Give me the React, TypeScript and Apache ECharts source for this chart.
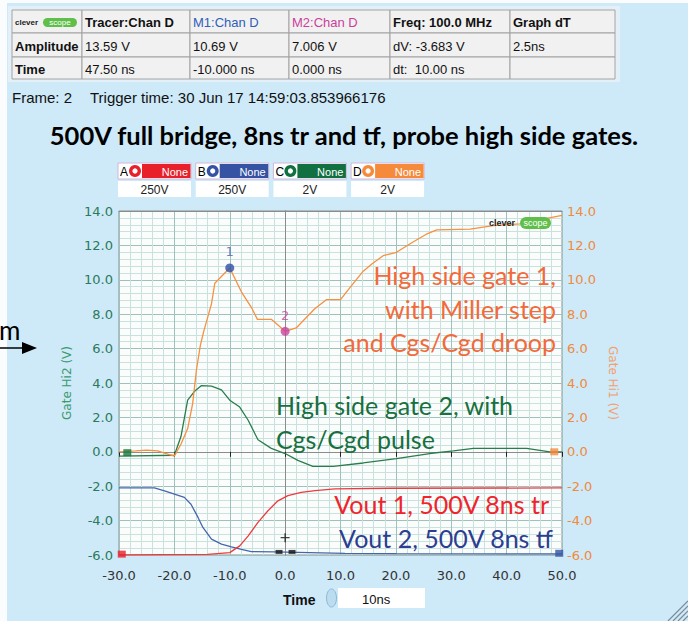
import React, { useEffect, useRef } from "react";
import * as echarts from "echarts";

// ---------- data ----------
const xMin = -30;
const xMax = 50;
const xStep = 10;
const yMin = -6;
const yMax = 14;
const yStep = 2;

// Gate Hi1 (Chan D, orange) [ns, V]
const gateHi1: number[][] = [
  [-30, 0.0], [-27, 0.05], [-25, 0.1], [-23, 0.05], [-21.5, -0.1], [-20, -0.25],
  [-18.8, 0.45], [-17.6, 1.35], [-16.7, 2.8], [-16.0, 4.8], [-15.3, 6.2], [-14.7, 7.0],
  [-13.3, 8.6], [-12.7, 9.8], [-10, 10.69], [-7.9, 9.3], [-6.1, 8.4], [-5, 7.7],
  [-2.5, 7.7], [0, 7.006], [2, 7.2], [5.3, 8.3], [7.5, 8.85], [10, 8.85], [11.7, 9.55],
  [14.1, 10.5], [15.6, 10.9], [17.7, 11.4], [20.1, 11.6], [23.1, 12.2], [25.5, 12.65],
  [27.4, 12.9], [33.4, 12.95], [37.6, 13.15], [42.4, 13.25], [47.5, 13.59], [50, 13.75],
];

// Gate Hi2 (Chan C, green)
const gateHi2: number[][] = [
  [-30, -0.25], [-20, -0.2], [-18.8, 0.9], [-17.6, 3.0], [-16.4, 3.5], [-15.1, 3.85],
  [-13.3, 3.82], [-11.5, 3.6], [-10, 3.0], [-8.2, 2.6], [-6.7, 1.85], [-4.9, 0.7],
  [-2.5, 0.2], [0, -0.1], [2.3, -0.5], [5, -0.85], [8.7, -0.85], [14.1, -0.65],
  [20.1, -0.4], [26.1, -0.1], [30.4, 0.05], [34, 0.2], [43.6, 0.2], [47.8, 0.0], [50, 0.0],
];

// Vout 1 (Chan A, red), displayed in scope divisions
const vout1: number[][] = [
  [-30, -6.0], [-14, -5.96], [-10, -5.86], [-8.2, -5.47], [-6.7, -4.9], [-4.9, -4.1],
  [-3.1, -3.43], [-1.3, -2.85], [0.5, -2.55], [2.9, -2.36], [5.4, -2.26], [9, -2.16],
  [19, -2.12], [50, -2.1],
];

// Vout 2 (Chan B, blue)
const vout2: number[][] = [
  [-30, -2.1], [-23.6, -2.1], [-21.5, -2.3], [-18.2, -2.65], [-17, -3.05], [-15.75, -3.8],
  [-14.85, -4.4], [-13.3, -5.08], [-11.5, -5.37], [-9.7, -5.53], [-7.9, -5.67], [-6.1, -5.8],
  [-2, -5.82], [10.8, -5.9], [20, -5.92], [50, -5.94],
];

// measurement markers
const markerNames = ["1", "2"];
const markerPoints: number[][] = [[-10, 10.69], [0, 7.006]];

// channel reference markers [ns, V]
const refRed: number[][] = [[-29.5, -5.95]];
const refGreen: number[][] = [[-28.5, -0.05]];
const refOrange: number[][] = [[48.6, 0.0]];
const refBlue: number[][] = [[49.5, -5.9]];

// dt cursor markers
const cursorSquares: number[][] = [[-1.1, -5.82], [1.25, -5.82]];
const cursorPlus: number[][] = [[0, -4.99]];

// table
const headerRow = ["", "Tracer:Chan D", "M1:Chan D", "M2:Chan D", "Freq: 100.0 MHz", "Graph dT"];
const amplitudeRow = ["Amplitude", "13.59 V", "10.69 V", "7.006 V", "dV: -3.683 V", "2.5ns"];
const timeRow = ["Time", "47.50 ns", "-10.000 ns", "0.000 ns", "dt:  10.00 ns", ""];

const channelLetters = ["A", "B", "C", "D"];
const channelScales = ["250V", "250V", "2V", "2V"];

const frameText = "Frame: 2";
const triggerText = "Trigger time: 30 Jun 17 14:59:03.853966176";
const titleText = "500V full bridge, 8ns tr and tf, probe high side gates.";
const timeBase = "10ns";

// ---------- styles ----------
const C_ORANGE = "#f7903f";
const C_GREEN = "#2a7d4a";
const C_RED = "#ee3a3f";
const C_BLUE = "#4565b0";
const CH_COLORS = ["#e8202a", "#3552a3", "#10703f", "#f68a3b"];
const BG = "#cee9f8";
const TICKFONT = "DejaVu Sans";
const TABFONT = "Liberation Sans";
const ANNFONT = "Lato";

function logo(x: number, y: number, h: number, fs: number, textW: number, pillW: number): any[] {
  return [
    { type: "text", x, y: y + h / 2, z: 60, style: { text: "clever", fill: "#222", font: `bold ${fs}px ${TABFONT}`, verticalAlign: "middle", align: "left" } },
    { type: "rect", z: 60, shape: { x: x + textW, y, width: pillW, height: h, r: h / 2 }, style: { fill: "#5fbf4a" } },
    { type: "text", x: x + textW + pillW / 2, y: y + h / 2, z: 61, style: { text: "scope", fill: "#ffffff", font: `${fs}px ${TABFONT}`, verticalAlign: "middle", align: "center" } },
  ];
}

function buildGraphic(): any[] {
  const g: any[] = [];
  g.push({ type: "rect", shape: { x: 0, y: 0, width: 7, height: 621 }, style: { fill: "#fafcfd" } });
  g.push({ type: "rect", shape: { x: 0, y: 0, width: 688, height: 3 }, style: { fill: "#fafcfd" } });
  g.push({ type: "rect", shape: { x: 8, y: 6, width: 612, height: 76 }, style: { fill: "#e3f0f8" } });
  const cols = [12, 82, 190, 289, 390, 510, 615];
  const rows = [10, 33, 57, 79];
  const tableRows = [headerRow, amplitudeRow, timeRow];
  tableRows.forEach((row, ri) => {
    row.forEach((txt, ci) => {
      const x0 = cols[ci];
      const y0 = rows[ri];
      const w = cols[ci + 1] - x0;
      const h = rows[ri + 1] - y0;
      g.push({ type: "rect", shape: { x: x0, y: y0, width: w, height: h }, style: { fill: "#f1f1f1", stroke: "#a3a3a3", lineWidth: 1 } });
      let color = "#111";
      let weight = "normal";
      if (ri === 0) {
        weight = ci === 2 || ci === 3 ? "normal" : "bold";
        if (ci === 2) color = "#2f5fb8";
        if (ci === 3) color = "#cc3f9c";
      }
      if (ci === 0) weight = "bold";
      if (txt) {
        g.push({ type: "text", x: x0 + 3, y: y0 + h / 2 + 1, style: { text: txt, fill: color, font: `${weight} 13px ${TABFONT}`, verticalAlign: "middle" } });
      }
    });
  });
  g.push(...logo(15, 18, 9, 8, 28, 34));
  g.push({ type: "text", x: 12, y: 97, style: { text: frameText, fill: "#111", font: `15px ${TABFONT}`, verticalAlign: "middle" } });
  g.push({ type: "text", x: 90, y: 97, style: { text: triggerText, fill: "#111", font: `15px ${TABFONT}`, verticalAlign: "middle" } });
  g.push({ type: "text", x: 344, y: 135, style: { text: titleText, fill: "#000", font: `bold 25.5px ${ANNFONT}`, align: "center", verticalAlign: "middle" } });
  channelLetters.forEach((L, i) => {
    const x0 = 118 + i * 77.7;
    const col = CH_COLORS[i];
    g.push({ type: "rect", shape: { x: x0, y: 163, width: 73, height: 16 }, style: { fill: "#ffffff", stroke: "#d4b6d8", lineWidth: 1 } });
    g.push({ type: "text", x: x0 + 2, y: 171.5, style: { text: L, fill: "#000", font: `12px ${TABFONT}`, verticalAlign: "middle" } });
    g.push({ type: "circle", shape: { cx: x0 + 17, cy: 171, r: 6 }, style: { fill: col } });
    g.push({ type: "circle", shape: { cx: x0 + 17, cy: 171, r: 2.6 }, style: { fill: "#ffffff" } });
    g.push({ type: "rect", shape: { x: x0 + 24, y: 164, width: 48.5, height: 14 }, style: { fill: col } });
    g.push({ type: "text", x: x0 + 70, y: 171.5, style: { text: "None", fill: "#ffffff", font: `11px ${TABFONT}`, align: "right", verticalAlign: "middle" } });
    g.push({ type: "rect", shape: { x: x0, y: 181, width: 73, height: 16 }, style: { fill: "#ffffff" } });
    g.push({ type: "text", x: x0 + 36.5, y: 189.5, style: { text: channelScales[i], fill: "#222", font: `12px ${TABFONT}`, align: "center", verticalAlign: "middle" } });
  });
  g.push(...logo(489, 217, 12, 9, 31, 31));
  const orangeLines = ["High side gate 1,", "with Miller step", "and Cgs/Cgd droop"];
  orangeLines.forEach((t, i) => {
    g.push({ type: "text", x: 556, y: 275 + i * 33.5, z: 50, style: { text: t, fill: "#f36a3a", font: `25px ${ANNFONT}`, align: "right", verticalAlign: "middle" } });
  });
  const greenLines = ["High side gate 2, with", "Cgs/Cgd pulse"];
  greenLines.forEach((t, i) => {
    g.push({ type: "text", x: 276, y: 405 + i * 33.5, z: 50, style: { text: t, fill: "#17703f", font: `25px ${ANNFONT}`, align: "left", verticalAlign: "middle" } });
  });
  g.push({ type: "text", x: 549, y: 504, z: 50, style: { text: "Vout 1, 500V 8ns tr", fill: "#f0242b", font: `25px ${ANNFONT}`, align: "right", verticalAlign: "middle" } });
  g.push({ type: "text", x: 553, y: 538, z: 50, style: { text: "Vout 2, 500V 8ns tf", fill: "#2c3d92", font: `25px ${ANNFONT}`, align: "right", verticalAlign: "middle" } });
  g.push({ type: "text", x: -1, y: 330, style: { text: "m", fill: "#000", font: `26px ${ANNFONT}`, verticalAlign: "middle" } });
  g.push({ type: "line", shape: { x1: 0, y1: 348, x2: 25, y2: 348 }, style: { stroke: "#000", lineWidth: 1.5 } });
  g.push({ type: "polygon", shape: { points: [[22, 342], [37, 348], [22, 354]] }, style: { fill: "#000" } });
  g.push({ type: "text", x: 283, y: 600, style: { text: "Time", fill: "#111", font: `bold 14px ${TABFONT}`, verticalAlign: "middle" } });
  g.push({ type: "ellipse", shape: { cx: 331.5, cy: 598, rx: 5, ry: 9 }, style: { fill: "#bcdcf0", stroke: "#8fb8d8", lineWidth: 1 } });
  g.push({ type: "rect", shape: { x: 338, y: 588, width: 87, height: 20 }, style: { fill: "#ffffff" } });
  g.push({ type: "text", x: 362, y: 599, style: { text: timeBase, fill: "#111", font: `13px ${TABFONT}`, verticalAlign: "middle" } });
  for (let k = 0; k < 4; k++) {
    g.push({ type: "line", shape: { x1: 668 + k * 5, y1: 621, x2: 688, y2: 601 + k * 5 }, style: { stroke: "#7a8a96", lineWidth: 1.2 } });
  }
  return g;
}

export default function App() {
  const ref = useRef<HTMLDivElement>(null);
  useEffect(() => {
    if (!ref.current) return;
    const chart = echarts.init(ref.current, undefined, { renderer: "svg" });
    const lineSeries = (name: string, data: number[][], color: string, yIdx: number) => ({
      type: "line", name, data, xAxisIndex: 0, yAxisIndex: yIdx, showSymbol: false, symbol: "none",
      lineStyle: { color, width: 1.3 }, z: 3,
    });
    const refSeries = (data: number[][], color: string) => ({
      type: "scatter", data, xAxisIndex: 0, yAxisIndex: 0, symbol: "rect", symbolSize: [8, 7],
      itemStyle: { color }, z: 4,
    });
    const option: any = {
      animation: false,
      backgroundColor: BG,
      grid: { left: 119, top: 211, width: 443, height: 344, show: true, backgroundColor: "#fbfdfd", borderColor: "#8c8c8c", borderWidth: 1 },
      xAxis: [
        {
          type: "value", min: xMin, max: xMax, interval: xStep, position: "bottom",
          axisLine: { show: true, lineStyle: { color: "#8c8c8c" } }, axisTick: { show: false }, axisLabel: { show: false },
          splitLine: { show: true, lineStyle: { color: "#9fc1bb", width: 1 } },
          minorTick: { show: false, splitNumber: 5 },
          minorSplitLine: { show: true, lineStyle: { color: "#c9e2dd", width: 1 } },
        },
        {
          type: "value", min: xMin, max: xMax, interval: xStep, position: "bottom", offset: 5,
          axisLine: { show: false }, axisTick: { show: true, length: 5, lineStyle: { color: "#222" } },
          axisLabel: { show: true, margin: 9, color: "#333", fontFamily: TICKFONT, fontSize: 13, formatter: (v: number) => v.toFixed(1) },
          splitLine: { show: false },
        },
        {
          type: "value", min: xMin, max: xMax, interval: xStep, position: "top",
          axisLine: { show: true, lineStyle: { color: "#8c8c8c" } }, axisTick: { show: false }, axisLabel: { show: false }, splitLine: { show: false },
        },
      ],
      yAxis: [
        {
          type: "value", min: yMin, max: yMax, interval: yStep, position: "left",
          name: "Gate Hi2 (V)", nameLocation: "middle", nameGap: 34,
          nameTextStyle: { color: "#3a9a6c", fontFamily: TICKFONT, fontSize: 12 },
          axisLine: { show: true, lineStyle: { color: "#8c8c8c" } }, axisTick: { show: false },
          axisLabel: { margin: 6, color: "#2b7a5a", fontFamily: TICKFONT, fontSize: 13, formatter: (v: number) => v.toFixed(1) },
          splitLine: { show: true, lineStyle: { color: "#9fc1bb", width: 1 } },
          minorTick: { show: false, splitNumber: 5 },
          minorSplitLine: { show: true, lineStyle: { color: "#c9e2dd", width: 1 } },
        },
        {
          type: "value", min: yMin, max: yMax, interval: yStep, position: "right",
          name: "Gate Hi1 (V)", nameLocation: "middle", nameGap: 44, nameRotate: -90,
          nameTextStyle: { color: "#f4a06c", fontFamily: TICKFONT, fontSize: 12 },
          axisLine: { show: true, lineStyle: { color: "#8c8c8c" } }, axisTick: { show: false },
          axisLabel: { margin: 5, color: "#f08a3c", fontFamily: TICKFONT, fontSize: 13, formatter: (v: number) => v.toFixed(1) },
          splitLine: { show: false },
        },
      ],
      series: [
        lineSeries("Vout 2", vout2, C_BLUE, 0),
        lineSeries("Vout 1", vout1, C_RED, 0),
        lineSeries("Gate Hi2", gateHi2, C_GREEN, 0),
        lineSeries("Gate Hi1", gateHi1, C_ORANGE, 1),
        refSeries(refRed, "#e8202a"),
        refSeries(refGreen, "#137a40"),
        refSeries(refOrange, "#f68a3b"),
        refSeries(refBlue, "#3552a3"),
        {
          type: "scatter", xAxisIndex: 0, yAxisIndex: 0, symbol: "rect", symbolSize: [7, 4],
          data: cursorSquares, itemStyle: { color: "#111" }, z: 5,
        },
        {
          type: "scatter", xAxisIndex: 0, yAxisIndex: 0, symbol: "path://M4,0h1.4v4h4v1.4h-4v4h-1.4v-4h-4v-1.4h4z", symbolSize: 9,
          data: cursorPlus, itemStyle: { color: "#111" }, z: 5,
        },
        {
          type: "scatter", xAxisIndex: 0, yAxisIndex: 1, symbolSize: 9, z: 6,
          data: markerPoints.map((p, i) => ({
            value: p, name: markerNames[i],
            itemStyle: { color: i === 0 ? "#2f4fa8" : "#c8449e" },
            label: { color: i === 0 ? "#4862b4" : "#c8449e" },
          })),
          label: { show: true, position: "top", distance: 5, fontFamily: TICKFONT, fontSize: 13, formatter: (p: any) => p.name },
        },
      ],
      graphic: buildGraphic(),
    };
    chart.setOption(option);
    return () => chart.dispose();
  }, []);
  return <div ref={ref} style={{ position: "fixed", left: 0, top: 0, width: 688, height: 621 }} />;
}
